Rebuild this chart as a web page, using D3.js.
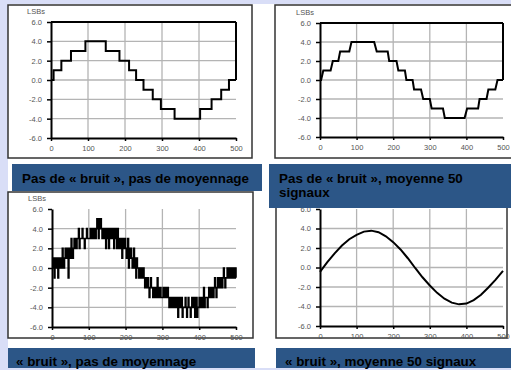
<!DOCTYPE html>
<html>
<head>
<meta charset="utf-8">
<script src="https://cdn.jsdelivr.net/npm/d3@7"></script>
<style>
  body { margin: 0; background: #d9def7; }
  svg { display: block; font-family: "Liberation Sans", Arial, sans-serif; }
</style>
</head>
<body>
<script>
// axes
const xTicks = [0, 100, 200, 300, 400, 500];
const yTicks = [6, 4, 2, 0, -2, -4, -6];
const gridX = [100, 200, 300, 400];
const gridY = [4, 2, 0, -2, -4];

const captions = [
  ["Pas de « bruit », pas de moyennage"],
  ["Pas de « bruit », moyenne 50", "signaux"],
  ["« bruit », pas de moyennage"],
  ["« bruit », moyenne 50 signaux"]
];

// no noise, no averaging : quantized staircase
const stepX = [0, 7, 28, 54, 93, 148, 185, 211, 230, 250, 275, 297, 334, 403, 434, 460, 481, 500];
const stepY = [0, 1, 2, 3, 4, 3, 2, 1, 0, -1, -2, -3, -4, -3, -2, -1, 0, 0];

// no noise, 50 averaged signals
const avgX = [0, 3, 9, 29, 35, 50, 55, 80, 86, 148, 155, 185, 189, 209, 214, 232, 236, 253, 257,
              276, 282, 300, 305, 336, 341, 395, 402, 432, 436, 455, 460, 479, 485, 500];
const avgY = [0, 0, 1, 1, 2, 2, 3, 3, 4, 4, 3, 3, 2, 2, 1, 1, 0, 0, -1,
              -1, -2, -2, -3, -3, -4, -4, -3, -3, -2, -2, -1, -1, 0, 0];

// noise, no averaging : one sample every 2 units
const noiseStep = 2;
const noiseY = [
  0, 1, 0, -1, 1, 0, 1, 0, -1, 1,
  0, 1, 1, 0, 2, 1, 0, 1, 2, 1,
  1, 2, -1, 1, 2, 1, 3, 2, 1, 2,
  3, 2, 3, 2, 3, 3, 4, 2, 3, 3,
  3, 4, 3, 3, 2, 3, 3, 4, 3, 3,
  3, 3, 4, 3, 4, 3, 3, 4, 4, 3,
  4, 5, 4, 3, 5, 4, 5, 4, 3, 4,
  4, 3, 4, 2, 4, 3, 4, 2, 3, 4,
  3, 4, 3, 4, 2, 3, 4, 3, 2, 4,
  3, 2, 3, 2, 3, 1, 3, 2, 2, 3,
  2, 1, 2, 3, 0, 2, 1, 2, 1, 0,
  1, 2, 0, 1, -1, 1, 0, 0, -1, 0,
  0, -1, 0, -1, 0, -1, -2, -1, -1, -2,
  -1, -2, -3, -2, -1, -2, -2, -3, -2, -3,
  -2, -3, -2, -1, -3, -2, -3, -2, -3, -3,
  -3, -2, -3, -3, -2, -3, -3, -2, -3, -4,
  -3, -4, -3, -4, -4, -3, -4, -3, -4, -4,
  -3, -5, -4, -3, -4, -4, -3, -5, -4, -4,
  -4, -3, -4, -5, -4, -3, -4, -4, -5, -4,
  -3, -4, -4, -3, -5, -4, -3, -5, -4, -4,
  -3, -4, -3, -4, -4, -3, -2, -4, -3, -3,
  -3, -4, -3, -2, -3, -3, -2, -3, -2, -3,
  -2, -1, -2, -3, -2, -1, -2, -2, -1, -2,
  -1, -2, -1, 0, -1, -2, -1, -1, 0, -1,
  -1, 0, -1, -1, 0, -1, -1, 0, -1, 0,
  -1
];

// noise, 50 averaged signals
const smoothX = [0, 20, 40, 60, 80, 100, 120, 140, 160, 180, 200, 220, 240, 260,
                 280, 300, 320, 340, 360, 380, 400, 420, 440, 460, 480, 500];
const smoothY = [-0.45, 0.55, 1.45, 2.25, 2.9, 3.35, 3.68, 3.78, 3.62, 3.2, 2.6, 1.85, 0.95, -0.05,
                 -1.0, -1.85, -2.6, -3.2, -3.6, -3.78, -3.7, -3.35, -2.8, -2.05, -1.25, -0.35];

const W = 511, H = 370;

const svg = d3.select("body")
    .append("svg")
    .attr("width", W)
    .attr("height", H);

// slide background
svg.append("rect")
    .attr("x", 8).attr("y", 4)
    .attr("width", W - 8).attr("height", 364)
    .attr("fill", "#fff");

const panels = [
  { box: [8, 5, 244, 153], plot: [51, 22, 236, 138], frame: true, lsbs: true,
    pts: stepX.map((x, i) => [x, stepY[i]]), curve: d3.curveStepAfter },
  { box: [275, 5, 240, 153], plot: [320, 23, 503, 137], frame: true, lsbs: true,
    pts: avgX.map((x, i) => [x, avgY[i]]), curve: d3.curveLinear },
  { box: [8, 192, 245, 146], plot: [52, 209, 236, 327], frame: false, lsbs: true,
    pts: noiseY.map((v, i) => [i * noiseStep, v]), curve: d3.curveStepAfter, thin: true },
  { box: [276, 196, 231, 142], plot: [320, 209, 503, 326], frame: false, lsbs: false,
    pts: smoothX.map((x, i) => [x, smoothY[i]]), curve: d3.curveLinear }
];

panels.forEach(p => {
  const g = svg.append("g");
  const [bx, by, bw, bh] = p.box;
  const [x0, y0, x1, y1] = p.plot;

  g.append("rect")
      .attr("x", bx).attr("y", by)
      .attr("width", bw).attr("height", bh)
      .attr("fill", "#fff")
      .attr("stroke", "#333")
      .attr("stroke-width", 1.5);

  const x = d3.scaleLinear().domain([0, 500]).range([x0, x1]);
  const y = d3.scaleLinear().domain([-6, 6]).range([y1, y0]);

  // grid
  g.selectAll(".gx").data(gridX).enter().append("line")
      .attr("x1", d => x(d)).attr("x2", d => x(d))
      .attr("y1", y(6)).attr("y2", y(-6))
      .attr("stroke", "#b4b4b4").attr("stroke-width", 1.3);
  g.selectAll(".gy").data(gridY).enter().append("line")
      .attr("x1", x(0)).attr("x2", x(500))
      .attr("y1", d => y(d)).attr("y2", d => y(d))
      .attr("stroke", "#b4b4b4").attr("stroke-width", 1.3);

  // axes
  const ax = g.append("g")
      .attr("transform", `translate(0,${y(-6)})`)
      .call(d3.axisBottom(x).tickValues(xTicks).tickSize(3).tickSizeOuter(0).tickPadding(5));
  const ay = g.append("g")
      .attr("transform", `translate(${x(0)},0)`)
      .call(d3.axisLeft(y).tickValues(yTicks).tickSize(4).tickSizeOuter(0).tickPadding(5)
        .tickFormat(d => d.toFixed(1)));
  [ax, ay].forEach(a => {
    a.select(".domain").attr("stroke", "#000").attr("stroke-width", 2);
    a.selectAll(".tick line").attr("stroke", "#000").attr("stroke-width", 1.5);
    a.selectAll(".tick text")
        .attr("fill", "#555")
        .style("font-size", "7.5px")
        .style("font-family", "'Liberation Sans', Arial, sans-serif");
  });

  if (p.frame) {
    g.append("line")
        .attr("x1", x(0)).attr("x2", x(500))
        .attr("y1", y(6)).attr("y2", y(6))
        .attr("stroke", "#000").attr("stroke-width", 2);
    g.append("line")
        .attr("x1", x(500)).attr("x2", x(500))
        .attr("y1", y(6)).attr("y2", y(0))
        .attr("stroke", "#000").attr("stroke-width", 2);
  }

  if (p.lsbs) {
    g.append("text")
        .attr("x", x(0) - 24).attr("y", y(6) - 8)
        .attr("fill", "#555")
        .style("font-size", "7.5px")
        .text("LSBs");
  }

  const line = d3.line()
      .x(d => x(d[0]))
      .y(d => y(d[1]))
      .curve(p.curve);

  g.append("path")
      .datum(p.pts)
      .attr("d", line)
      .attr("fill", "none")
      .attr("stroke", "#000")
      .attr("stroke-width", p.thin ? 1.6 : 2)
      .attr("stroke-linejoin", "miter");
});

// caption bars
const bars = [
  { r: [12, 164, 250, 27], tx: 22, ty: 183 },
  { r: [269, 164, 242, 44], tx: 279, ty: 183 },
  { r: [8, 348, 247, 20], tx: 16, ty: 366 },
  { r: [276, 348, 235, 20], tx: 285, ty: 366 }
];

bars.forEach((b, i) => {
  svg.append("rect")
      .attr("x", b.r[0]).attr("y", b.r[1])
      .attr("width", b.r[2]).attr("height", b.r[3])
      .attr("fill", "#2c5687");
  const t = svg.append("text")
      .attr("x", b.tx).attr("y", b.ty)
      .attr("fill", "#000")
      .style("font-size", "13.4px")
      .style("font-weight", "bold");
  captions[i].forEach((s, k) => {
    t.append("tspan")
        .attr("x", b.tx)
        .attr("dy", k === 0 ? 0 : 14)
        .text(s);
  });
});
</script>
</body>
</html>
